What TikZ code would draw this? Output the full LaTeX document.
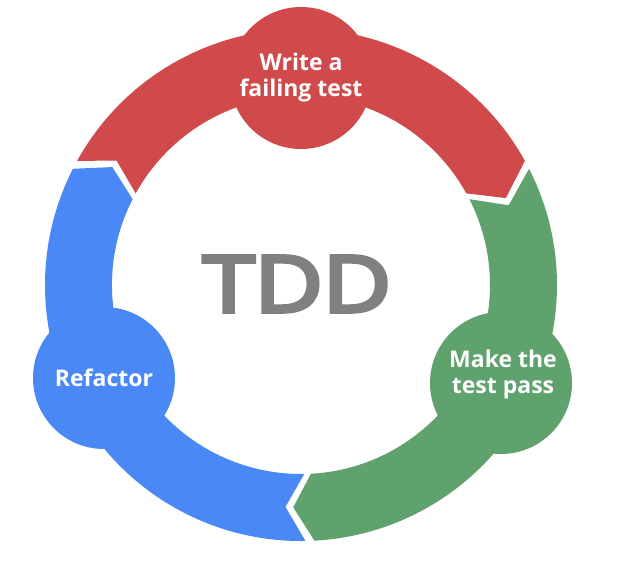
\documentclass[tikz,border=0pt]{standalone}
\usepackage{fontspec}
\setmainfont{Open Sans}
\newfontfamily\tddfont{Open Sans}[FakeBold=5]
\usetikzlibrary{positioning}
\definecolor{CycleRed}{HTML}{D04A4B}
\definecolor{CycleGreen}{HTML}{5FA26E}
\definecolor{CycleBlue}{HTML}{4A88F5}
\definecolor{CycleGrey}{HTML}{808080}

\begin{document}
\begin{tikzpicture}[x=0.75pt,y=0.75pt, every node/.style={font=\bfseries\fontsize{17.25}{19.5}\selectfont, text=white, align=center}]
    \useasboundingbox (-301,-284) rectangle (328,285);

    % ring segments, each one notched at its tail and pointed at its head
    \fill[CycleRed] (151:256) arc[start angle=151, end angle=29, radius=256] -- (23:222.5) -- (29:189) arc[start angle=29, end angle=151, radius=189] -- (146:222.5) -- cycle;
    \fill[CycleGreen] (27:256) arc[start angle=27, end angle=-87, radius=256] -- (-92:222.5) -- (-87:189) arc[start angle=-87, end angle=27, radius=189] -- (21:222.5) -- cycle;
    \fill[CycleBlue] (271:256) arc[start angle=271, end angle=153, radius=256] -- (148:222.5) -- (153:189) arc[start angle=153, end angle=271, radius=189] -- (266:222.5) -- cycle;

    \node[circle, fill=CycleRed, minimum size=106.5pt, inner sep=0pt] (writestep) at (0,207) {Write a\\failing test};
    \node[circle, fill=CycleGreen, minimum size=106.5pt, inner sep=0pt] (passstep) at (200,-98) {};
    \node (passlabel) at (202,-90) {Make the\\test pass};
    \node[circle, fill=CycleBlue, minimum size=106.5pt, inner sep=0pt] (refactorstep) at (-197,-93) {Refactor};

    \node[text=CycleGrey, font=\tddfont\fontsize{58.5}{60}\selectfont, xscale=1.2] (tdd) at (-4,1) {TDD};
  \end{tikzpicture}
\end{document}
